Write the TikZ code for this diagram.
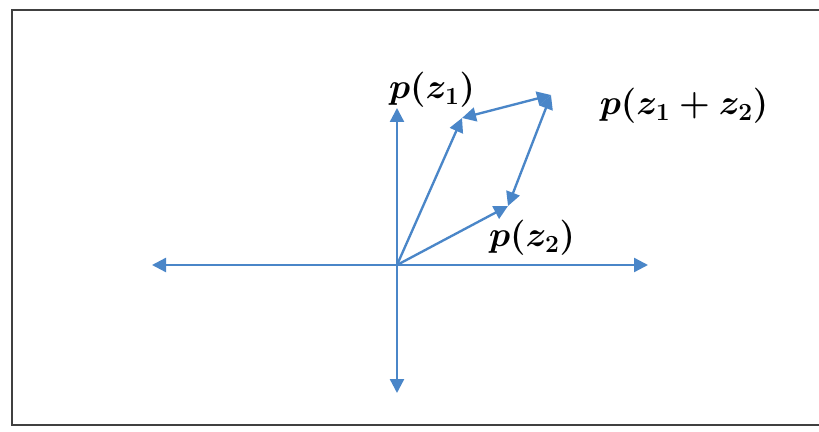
\RequirePackage{fix-cm}
\documentclass[tikz,border=0pt]{standalone}
\usepackage{xcolor}
\usepackage{amsmath}
\usepackage{tikz}
\usetikzlibrary{arrows.meta}
\definecolor{vecBlue}{HTML}{4A86C8}
\definecolor{frameGray}{HTML}{404040}
\tikzset{
  vec/.style={-{Triangle[length=4.2mm,width=4.2mm]}, line width=2pt, vecBlue},
  dvec/.style={{Triangle[length=4.2mm,width=4.2mm]}-{Triangle[length=4.2mm,width=4.2mm]}, line width=2pt, vecBlue},
  lbl/.style={font=\fontsize{30}{34}\selectfont, inner sep=0pt},
}
\begin{document}
\begin{tikzpicture}[x=0.03cm, y=-0.03cm]
  \useasboundingbox (0,0) rectangle (819,432);
  \fill[white] (0,0) rectangle (819,432);
  \draw[frameGray, line width=1.7pt] (830,10) -- (12,10) -- (12,425) -- (830,425);
  % points
  \coordinate (o)  at (397,265);
  \coordinate (za) at (462,118);
  \coordinate (zb) at (508,206);
  \coordinate (zs) at (551,95);
  \coordinate (xl) at (152,265);
  \coordinate (xr) at (648,265);
  \coordinate (yt) at (397,108);
  \coordinate (yb) at (397,393);
  % axes
  \draw[dvec] (xl) -- (xr);
  \draw[dvec] (yb) -- (yt);
  % vectors
  \draw[vec] (o) -- (za);
  \draw[vec] (o) -- (zb);
  \draw[dvec] (za) -- (zs);
  \draw[dvec] (zb) -- (zs);
  % labels
  \node[lbl] (la) at (432,90)  {$\boldsymbol{p(z_1)}$};
  \node[lbl] (lb) at (532,238) {$\boldsymbol{p(z_2)}$};
  \node[lbl] (ls) at (684,106) {$\boldsymbol{p(z_1+z_2)}$};
\end{tikzpicture}
\end{document}
